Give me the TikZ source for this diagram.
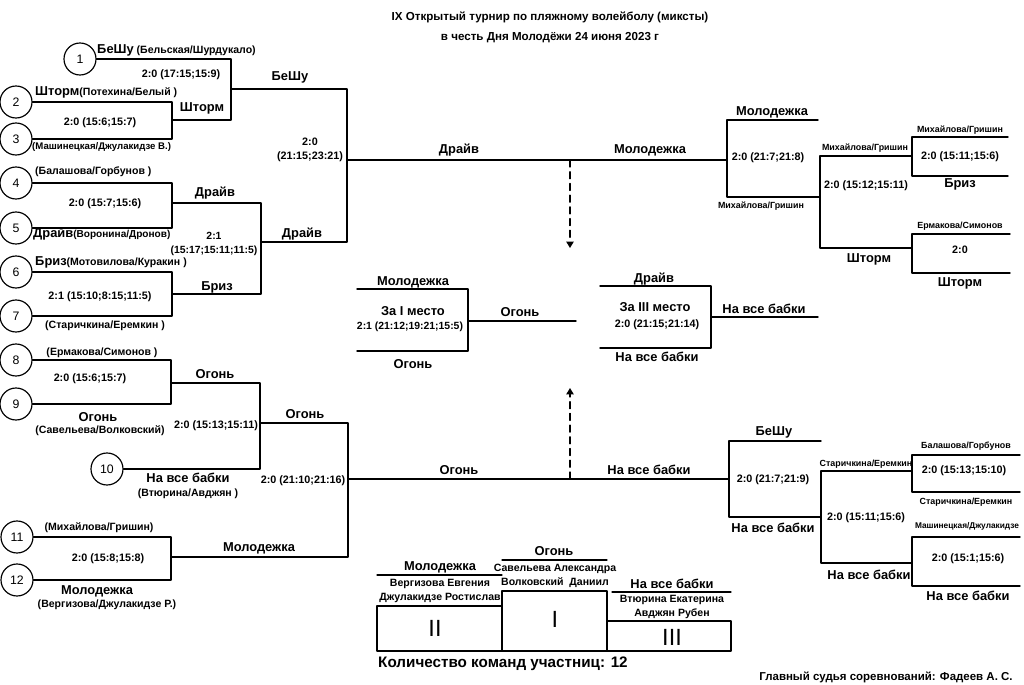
\documentclass[tikz,border=0pt]{standalone}
\usepackage{fontspec}
\setmainfont{Liberation Sans}
\usetikzlibrary{arrows.meta, calc, positioning}

\tikzset{
  bline/.style={line width=1.2pt},
  seed/.style={draw, circle, line width=1pt, minimum size=0.96cm, inner sep=0pt, font=\fontsize{10.5}{12}\selectfont},
  team/.style={inner sep=0pt, font=\bfseries\fontsize{11}{12}\selectfont},
  pair/.style={inner sep=0pt, font=\bfseries\fontsize{9}{10}\selectfont},
  score/.style={inner sep=0pt, align=center, font=\bfseries\fontsize{9.2}{12}\selectfont},
  small/.style={inner sep=0pt, font=\bfseries\fontsize{7.6}{9}\selectfont},
  place/.style={inner sep=0pt, font=\fontsize{20}{20}\selectfont}
}
\newcommand{\tm}[1]{{\fontsize{11}{12}\selectfont #1}}

\begin{document}
\begin{tikzpicture}[x=0.03cm, y=-0.03cm, line cap=round, line join=round, >=Triangle]
    \useasboundingbox (0,0) rectangle (1024,685);

    % title
    \node[inner sep=0pt, font=\bfseries\fontsize{9.9}{11}\selectfont] (title1) at (550,17) {IX Открытый турнир по пляжному волейболу (миксты)};
    \node[inner sep=0pt, font=\bfseries\fontsize{9.9}{11}\selectfont] (title2) at (550,38) {в честь Дня Молодёжи 24 июня 2023 г};

    % seeds
    \foreach \n/\x/\y in {1/80/59, 2/16/102, 3/16/139, 4/16/183, 5/16/228, 6/16/272,
                          7/16/316, 8/16/360, 9/16/404, 10/107/469, 11/17/537, 12/17/580}
        \node[seed] (c\n) at (\x,\y) {\n};

    % left side junctions
    \coordinate (m23) at (172,120);
    \coordinate (m1) at (231,89);
    \coordinate (m45) at (172,203);
    \coordinate (m67) at (172,294);
    \coordinate (m47) at (261,242);
    \coordinate (sf1) at (347,160);
    \coordinate (m89) at (171,383);
    \coordinate (m810) at (260,423);
    \coordinate (m1112) at (171,557);
    \coordinate (sf2) at (348,479);

    \draw[bline] (c2.east) -| (m23) |- (c3.east);
    \draw[bline] (c1.east) -| (m1) |- (m23);
    \draw[bline] (c4.east) -| (m45) |- (c5.east);
    \draw[bline] (c6.east) -| (m67) |- (c7.east);
    \draw[bline] (m45) -| (m47) |- (m67);
    \draw[bline] (m1) -| (sf1) |- (m47);
    \draw[bline] (c8.east) -| (m89) |- (c9.east);
    \draw[bline] (m89) -| (m810) |- (c10.east);
    \draw[bline] (c11.east) -| (m1112) |- (c12.east);
    \draw[bline] (m810) -| (sf2) |- (m1112);

    % right side junctions
    \coordinate (r1) at (727,160);
    \coordinate (r1t) at (818,120);
    \coordinate (q1) at (820,197);
    \coordinate (p1) at (912,156);
    \coordinate (p1t) at (1008,137);
    \coordinate (p1b) at (1008,176);
    \coordinate (p2) at (912,248);
    \coordinate (p2t) at (1010,234);
    \coordinate (p2b) at (1010,273);

    \coordinate (r2) at (729,479);
    \coordinate (r2t) at (821,441);
    \coordinate (q2) at (821,517);
    \coordinate (p3) at (912,471);
    \coordinate (p3t) at (1020,455);
    \coordinate (p3b) at (1020,492);
    \coordinate (p4) at (912,563);
    \coordinate (p4t) at (1020,537);
    \coordinate (p4b) at (1020,586);

    \draw[bline] (r1t) -| (r1) |- (q1);
    \draw[bline] (p1) -| (q1) |- (p2);
    \draw[bline] (p1t) -| (p1) |- (p1b);
    \draw[bline] (p2t) -| (p2) |- (p2b);
    \draw[bline] (r2t) -| (r2) |- (q2);
    \draw[bline] (p3) -| (q2) |- (p4);
    \draw[bline] (p3t) -| (p3) |- (p3b);
    \draw[bline] (p4t) -| (p4) |- (p4b);

    % semifinal lines
    \draw[bline] (sf1) -- (r1);
    \draw[bline] (sf2) -- (r2);
    \coordinate (a1) at (570,160);
    \coordinate (a1e) at (570,248);
    \coordinate (a2) at (570,479);
    \coordinate (a2e) at (570,388);
    \draw[line width=1pt, dash pattern=on 6pt off 4pt, ->] (a1) -- (a1e);
    \draw[line width=1pt, dash pattern=on 6pt off 4pt, ->] (a2) -- (a2e);

    % finals
    \coordinate (ft) at (357,289);
    \coordinate (fb) at (357,351);
    \coordinate (fm) at (468,321);
    \coordinate (fw) at (576,321);
    \draw[bline] (ft) -| (fm) |- (fb);
    \draw[bline] (fm) -- (fw);
    \coordinate (tt) at (600,286);
    \coordinate (tb) at (600,348);
    \coordinate (tm) at (711,317);
    \coordinate (tw) at (818,317);
    \draw[bline] (tt) -| (tm) |- (tb);
    \draw[bline] (tm) -- (tw);

    % left labels
    \node[pair, anchor=west] (n1) at (97,50) {\tm{БеШу} (Бельская/Шурдукало)};
    \node[score] (s1) at (181,75) {2:0 (17:15;15:9)};
    \node[team] (w23) at (202,108) {Шторм};
    \node[score] (s23) at (100,123) {2:0 (15:6;15:7)};
    \node[team] (w1) at (290,77) {БеШу};
    \node[score] (ssf1) at (310,150) {2:0\\(21:15;23:21)};
    \node[pair, anchor=west] (n2) at (35,92) {\tm{Шторм}(Потехина/Белый )};
    \node[pair, anchor=west, font=\bfseries\fontsize{8.2}{10}\selectfont] (n3) at (32,147) {(Машинецкая/Джулакидзе В.)};
    \node[pair, anchor=west] (n4) at (35,172) {(Балашова/Горбунов )};
    \node[score] (s45) at (105,204) {2:0 (15:7;15:6)};
    \node[pair, anchor=west, font=\bfseries\fontsize{8.6}{10}\selectfont] (n5) at (33,234) {\tm{Драйв}(Воронина/Дронов)};
    \node[team] (w45) at (215,193) {Драйв};
    \node[score, font=\bfseries\fontsize{8.9}{12}\selectfont] (s47) at (214,244) {2:1\\(15:17;15:11;11:5)};
    \node[team] (w47) at (302,234) {Драйв};
    \node[pair, anchor=west] (n6) at (35,262) {\tm{Бриз}(Мотовилова/Куракин )};
    \node[score] (s67) at (100,297) {2:1 (15:10;8:15;11:5)};
    \node[team] (w67) at (217,287) {Бриз};
    \node[pair] (n7) at (105,326) {(Старичкина/Еремкин )};
    \node[pair] (n8) at (102,353) {(Ермакова/Симонов )};
    \node[score] (s89) at (90,379) {2:0 (15:6;15:7)};
    \node[team] (w89) at (215,374) {Огонь};
    \node[team] (t9) at (98,417) {Огонь};
    \node[pair] (n9) at (100,431) {(Савельева/Волковский)};
    \node[team] (w810) at (305,414) {Огонь};
    \node[score] (s810) at (216,426) {2:0 (15:13;15:11)};
    \node[team] (t10) at (188,478) {На все бабки};
    \node[pair] (n10) at (188,494) {(Втюрина/Авджян )};
    \node[score] (ssf2) at (303,481) {2:0 (21:10;21:16)};
    \node[pair] (n11) at (99,528) {(Михайлова/Гришин)};
    \node[score] (s1112) at (108,559) {2:0 (15:8;15:8)};
    \node[team] (w1112) at (259,548) {Молодежка};
    \node[team] (t12) at (97,591) {Молодежка};
    \node[pair] (n12) at (107,605) {(Вергизова/Джулакидзе Р.)};

    % centre labels
    \node[team] (l1) at (459,150) {Драйв};
    \node[team] (l2) at (650,150) {Молодежка};
    \node[team] (l3) at (459,470) {Огонь};
    \node[team] (l4) at (649,470) {На все бабки};
    \node[team] (ft1) at (413,282) {Молодежка};
    \node[team] (ftit) at (413,311) {За I место};
    \node[score, font=\bfseries\fontsize{8.9}{12}\selectfont] (fs) at (410,327) {2:1 (21:12;19:21;15:5)};
    \node[team] (ft2) at (413,364) {Огонь};
    \node[team] (fwin) at (520,312) {Огонь};
    \node[team] (tt1) at (654,279) {Драйв};
    \node[team] (ttit) at (655,307) {За III место};
    \node[score] (ts) at (657,325) {2:0 (21:15;21:14)};
    \node[team] (tt2) at (657,357) {На все бабки};
    \node[team] (twin) at (764,309) {На все бабки};

    % right labels
    \node[team] (rw1) at (772,112) {Молодежка};
    \node[score] (rs1) at (768,158) {2:0 (21:7;21:8)};
    \node[small] (rl1) at (761,206) {Михайлова/Гришин};
    \node[small] (q1w) at (865,148) {Михайлова/Гришин};
    \node[score] (q1s) at (866,186) {2:0 (15:12;15:11)};
    \node[team] (q1l) at (869,259) {Шторм};
    \node[small] (p1w) at (960,130) {Михайлова/Гришин};
    \node[score] (p1s) at (960,157) {2:0 (15:11;15:6)};
    \node[team] (p1l) at (960,184) {Бриз};
    \node[small] (p2w) at (960,226) {Ермакова/Симонов};
    \node[score] (p2s) at (960,250) {2:0};
    \node[team] (p2l) at (960,283) {Шторм};

    \node[team] (rw2) at (774,432) {БеШу};
    \node[score] (rs2) at (773,480) {2:0 (21:7;21:9)};
    \node[team] (rl2) at (773,528) {На все бабки};
    \node[small] (q2w) at (866,464) {Старичкина/Еремкин};
    \node[score] (q2s) at (866,518) {2:0 (15:11;15:6)};
    \node[team] (q2l) at (869,575) {На все бабки};
    \node[small] (p3w) at (966,446) {Балашова/Горбунов};
    \node[score] (p3s) at (964,471) {2:0 (15:13;15:10)};
    \node[small] (p3l) at (966,502) {Старичкина/Еремкин};
    \node[small, font=\bfseries\fontsize{7.1}{9}\selectfont] (p4w) at (967,526) {Машинецкая/Джулакидзе};
    \node[score] (p4s) at (968,559) {2:0 (15:1;15:6)};
    \node[team] (p4l) at (968,596) {На все бабки};

    % podium
    \draw[bline] (377,606) rectangle (502,651);
    \draw[bline] (502,591) rectangle (607,651);
    \draw[bline] (607,621) rectangle (731,651);
    \node[place] (pII) at (435,628) {II};
    \node[place] (pI) at (555,619) {I};
    \node[place] (pIII) at (672,637) {III};
    \node[team] (pt2) at (440,567) {Молодежка};
    \draw[line width=1pt] (377,575) -- (502,575);
    \node[pair] (pn2a) at (440,584) {Вергизова Евгения};
    \node[pair] (pn2b) at (440,598) {Джулакидзе Ростислав};
    \node[team] (pt1) at (554,551) {Огонь};
    \draw[line width=1pt] (502,560) -- (607,560);
    \node[pair] (pn1a) at (555,569) {Савельева Александра};
    \node[pair] (pn1b) at (555,583) {Волковский\ \ Даниил};
    \node[team] (pt3) at (672,584) {На все бабки};
    \draw[line width=1pt] (612,592) -- (731,592);
    \node[pair] (pn3a) at (672,600) {Втюрина Екатерина};
    \node[pair] (pn3b) at (672,614) {Авджян Рубен};

    % footer
    \node[inner sep=0pt, anchor=west, font=\bfseries\fontsize{13}{15}\selectfont] (count) at (378,664) {Количество команд участниц: 12};
    \node[inner sep=0pt, font=\bfseries\fontsize{9.8}{11}\selectfont] (judge) at (886,677) {Главный судья соревнований: Фадеев А. С.};
\end{tikzpicture}
\end{document}
